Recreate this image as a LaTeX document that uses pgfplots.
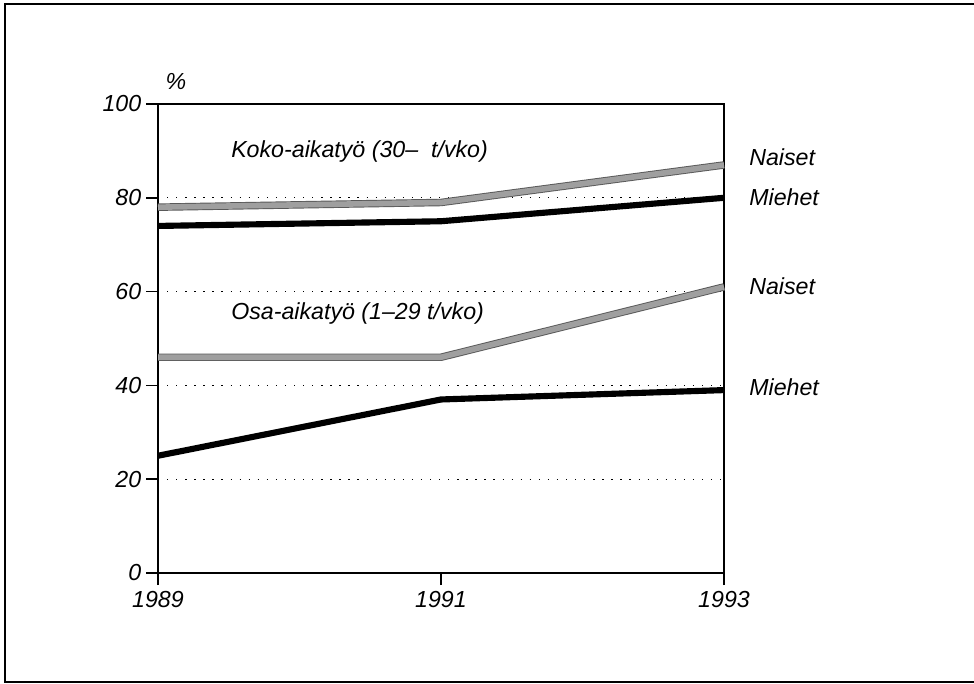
\documentclass[border=0pt]{standalone}
\usepackage{fontspec}
\setmainfont{Liberation Sans}
\usepackage{pgfplots}
\pgfplotsset{compat=1.18}
\newcommand{\lab}{\fontsize{17.4}{20}\selectfont\itshape}
\begin{document}
\begin{tikzpicture}
\begin{axis}[
  at={(118.5pt,-429.75pt)}, anchor=south west,
  scale only axis, width=424.5pt, height=351.75pt,
  xmin=1989, xmax=1993, ymin=0, ymax=100,
  xtick={1989,1991,1993}, ytick={0,20,40,60,80,100},
  tick align=outside, xtick pos=bottom, ytick pos=left,
  major tick length=9pt,
  axis line style={line width=1.3pt},
  tick style={line width=1.3pt, black},
  ticklabel style={font=\lab},
  xticklabel style={yshift=-1.5pt},
  /pgf/number format/assume math mode=true,
  /pgf/number format/1000 sep={},
  ymajorgrids=true,
  grid style={black, line width=1pt, dash pattern=on 1pt off 5.8pt},
  clip=false,
]
% Koko-aikatyo, Naiset
\addplot[black!65, line width=5.6pt, line cap=butt] coordinates {(1989,78) (1991,79) (1993,87)};
\addplot[gray!75, line width=4.2pt, line cap=butt] coordinates {(1989,78) (1991,79) (1993,87)};
% Koko-aikatyo, Miehet
\addplot[black, line width=4.6pt, line cap=butt] coordinates {(1989,74) (1991,75) (1993,80)};
% Osa-aikatyo, Naiset
\addplot[black!65, line width=5.6pt, line cap=butt] coordinates {(1989,46) (1991,46) (1993,61)};
\addplot[gray!75, line width=4.2pt, line cap=butt] coordinates {(1989,46) (1991,46) (1993,61)};
% Osa-aikatyo, Miehet
\addplot[black, line width=4.6pt, line cap=butt] coordinates {(1989,25) (1991,37) (1993,39)};
\end{axis}
\begin{scope}[x=0.75pt,y=-0.75pt]
\useasboundingbox (0,0) rectangle (974,684);
\draw[line width=1.5pt] (974,4) -- (5,4) -- (5,682) -- (974,682);
\node[font=\lab] at (176,82) {\%};
\node[anchor=base west, font=\lab, inner sep=0pt] at (231,158) {Koko-aikatyö (30–\ \ t/vko)};
\node[anchor=base west, font=\lab, inner sep=0pt] at (231,319) {Osa-aikatyö (1–29 t/vko)};
\node[anchor=base west, font=\lab, inner sep=0pt] at (749,166) {Naiset};
\node[anchor=base west, font=\lab, inner sep=0pt] at (749,206) {Miehet};
\node[anchor=base west, font=\lab, inner sep=0pt] at (749,294) {Naiset};
\node[anchor=base west, font=\lab, inner sep=0pt] at (749,395) {Miehet};
\end{scope}
\end{tikzpicture}
\end{document}
